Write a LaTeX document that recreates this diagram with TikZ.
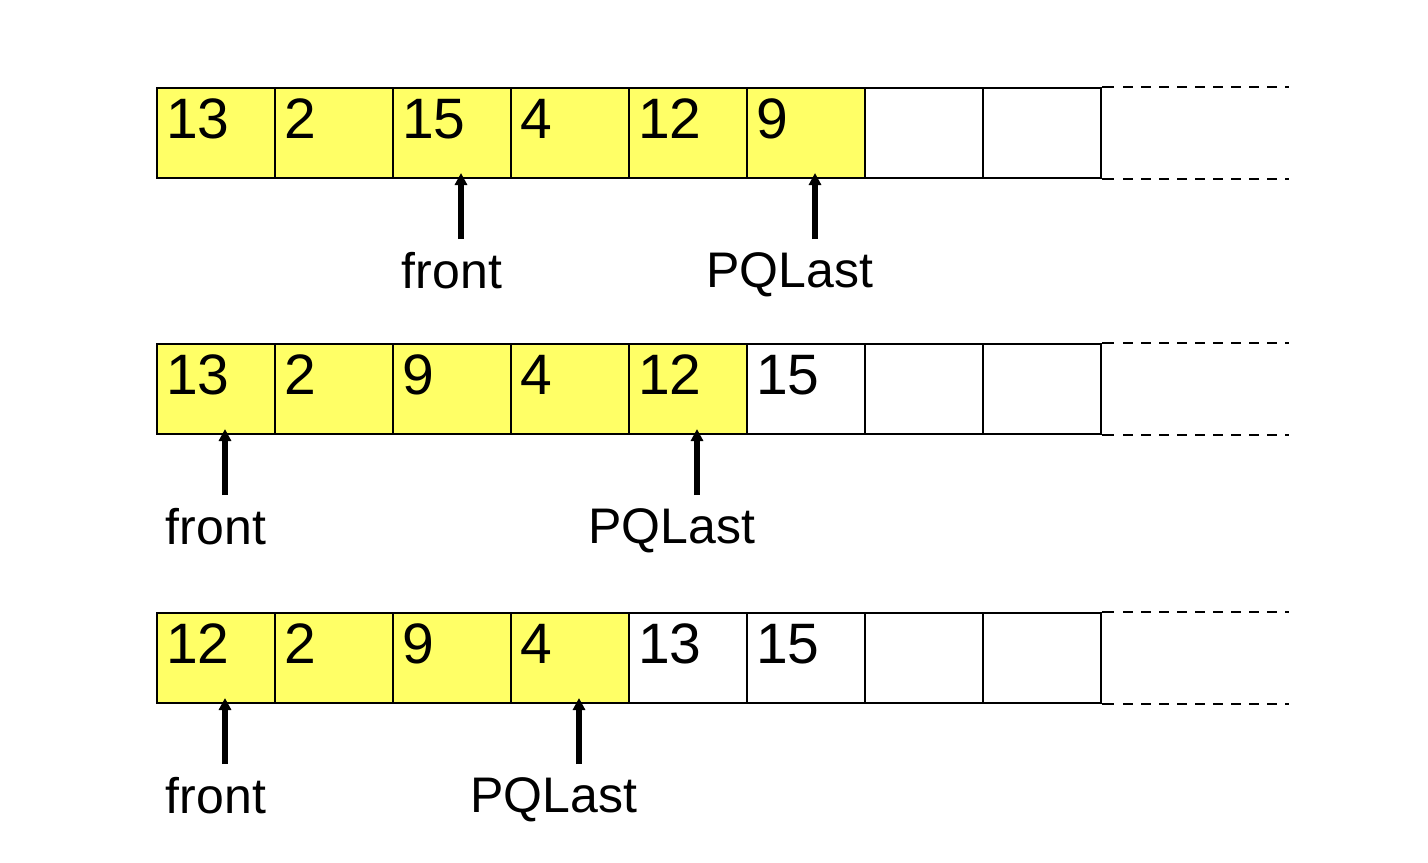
\documentclass[tikz,border=0pt]{standalone}
\usepackage{fontspec}
\setmainfont{Liberation Sans}
\usepackage{xcolor}
\usepackage{tikz}
\usetikzlibrary{positioning,arrows.meta}
\definecolor{QYellow}{RGB}{255,255,102}
\tikzset{
    cellbox/.style={rectangle, draw=black, line width=1pt, fill=#1, anchor=north west,
        minimum width=59pt, minimum height=45pt, inner xsep=4.5pt, inner ysep=0pt,
        text width=50pt, text height=25pt, text depth=20pt, align=left,
        font=\fontsize{28.5pt}{30pt}\selectfont},
    cellbox/.default=white,
    ptrlabel/.style={inner sep=0pt, font=\fontsize{25pt}{28pt}\selectfont},
    ptr/.style={line width=2.6pt, -{Triangle[length=6pt,width=6pt]}},
    tailline/.style={line width=1pt},
    dashtail/.style={line width=1pt, dash pattern=on 5pt off 4pt}
}

\begin{document}
\begin{tikzpicture}[x=0.5pt, y=-0.5pt]
    \useasboundingbox (0,0) rectangle (1428,862);

    % --- HANG 1 ---
    \foreach \v/\c [count=\i] in {13/QYellow, 2/QYellow, 15/QYellow, 4/QYellow,
                                  12/QYellow, 9/QYellow, {}/white, {}/white}
        \node[cellbox=\c] (a\i) at ({156+118*(\i-1)}, 87) {\v};

    % --- HANG 2 ---
    \foreach \v/\c [count=\i] in {13/QYellow, 2/QYellow, 9/QYellow, 4/QYellow,
                                  12/QYellow, 15/white, {}/white, {}/white}
        \node[cellbox=\c] (b\i) at ({156+118*(\i-1)}, 343) {\v};

    % --- HANG 3 ---
    \foreach \v/\c [count=\i] in {12/QYellow, 2/QYellow, 9/QYellow, 4/QYellow,
                                  13/white, 15/white, {}/white, {}/white}
        \node[cellbox=\c] (c\i) at ({156+118*(\i-1)}, 612) {\v};

    % --- Duoi mang (net dut) ---
    \foreach \r in {a, b, c} {
        \draw[tailline] (\r8.north east) -- ++(6pt,0);
        \draw[tailline] (\r8.south east) -- ++(6pt,0);
        \draw[dashtail] ([xshift=10.5pt]\r8.north east) -- ++(83pt,0);
        \draw[dashtail] ([xshift=10.5pt]\r8.south east) -- ++(83pt,0);
    }

    % --- Con tro front / PQLast ---
    \node[ptrlabel, below=36.5pt of a3] (f1) {front};
    \node[ptrlabel, below=36.5pt of a6, xshift=-8pt] (p1) {PQLast};
    \node[ptrlabel, below=36.5pt of b1] (f2) {front};
    \node[ptrlabel, below=36.5pt of b5, xshift=-8pt] (p2) {PQLast};
    \node[ptrlabel, below=36.5pt of c1] (f3) {front};
    \node[ptrlabel, below=36.5pt of c4, xshift=-8pt] (p3) {PQLast};

    \draw[ptr] ([xshift=4.5pt, yshift=6.5pt]f1.north) -- ([xshift=4.5pt, yshift=3pt]a3.south);
    \draw[ptr] ([xshift=12.5pt, yshift=6.5pt]p1.north) -- ([xshift=4.5pt, yshift=3pt]a6.south);
    \draw[ptr] ([xshift=4.5pt, yshift=6.5pt]f2.north) -- ([xshift=4.5pt, yshift=3pt]b1.south);
    \draw[ptr] ([xshift=12.5pt, yshift=6.5pt]p2.north) -- ([xshift=4.5pt, yshift=3pt]b5.south);
    \draw[ptr] ([xshift=4.5pt, yshift=6.5pt]f3.north) -- ([xshift=4.5pt, yshift=3pt]c1.south);
    \draw[ptr] ([xshift=12.5pt, yshift=6.5pt]p3.north) -- ([xshift=4.5pt, yshift=3pt]c4.south);

\end{tikzpicture}
\end{document}
